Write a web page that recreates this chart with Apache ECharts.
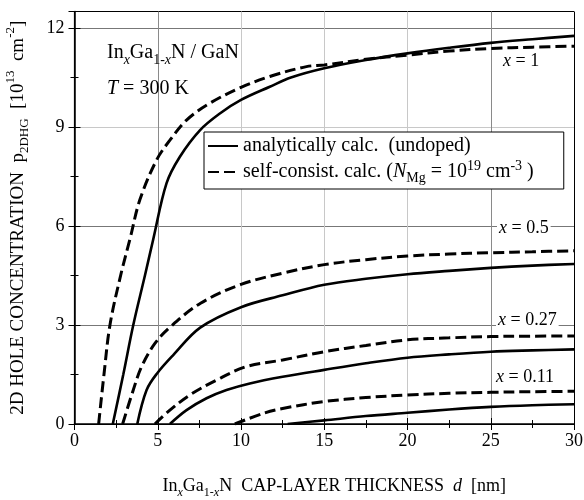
<!DOCTYPE html>
<html>
<head>
    <meta charset="utf-8">
    <title>Hole concentration vs cap-layer thickness</title>
    <script src="https://cdn.jsdelivr.net/npm/echarts@6/dist/echarts.min.js"></script>
    <style>
        body { margin: 0; background: #fff; }
    </style>
</head>
<body>
    <div id="main" style="width: 584px;height:500px;"></div>
    <script type="text/javascript">
        // [d (nm), p2DHG (1e13 cm^-2)]
        var solid100 = [[2.3,0],[2.93,1.5],[3.53,3],[4.23,4.5],[4.73,5.6],[5.53,7.3],[6.33,8.1],[7.53,8.9],[8.73,9.41],[10,9.82],[11.73,10.22],[13,10.5],[15,10.78],[17.5,11.03],[20,11.23],[22.5,11.4],[25,11.55],[27.5,11.66],[30,11.76]];
        var dash100 = [[1.45,0],[1.77,1.5],[2.13,3],[2.77,4.5],[3.33,5.6],[3.93,6.8],[4.93,8.0],[5.73,8.6],[6.73,9.21],[8.13,9.72],[10,10.2],[11.73,10.53],[13.93,10.83],[15,10.88],[17.5,11.05],[20,11.18],[22.5,11.3],[25,11.38],[27.5,11.42],[30,11.45]];
        var solid050 = [[3.77,0],[4.33,1.03],[4.97,1.54],[5.93,2.09],[7.55,2.92],[10,3.54],[12.5,3.9],[15,4.22],[17.5,4.4],[20,4.54],[22.5,4.64],[25,4.73],[27.5,4.8],[30,4.85]];
        var dash050 = [[2.89,0],[3.53,1.03],[4.03,1.74],[4.83,2.44],[5.77,2.95],[7.57,3.66],[10,4.23],[12.5,4.57],[15,4.83],[17.5,4.98],[20,5.09],[22.5,5.15],[25,5.19],[27.5,5.22],[30,5.25]];
        var solid027 = [[5.73,0],[6.73,0.42],[7.93,0.78],[9.13,1.03],[10.53,1.23],[12.5,1.43],[15,1.64],[17.5,1.84],[20,2.01],[22.5,2.11],[25,2.19],[27.5,2.23],[30,2.26]];
        var dash027 = [[4.83,0],[5.73,0.42],[6.93,0.88],[8.53,1.33],[10.33,1.74],[12.5,1.94],[15,2.19],[17.5,2.38],[20,2.55],[22.5,2.61],[25,2.65],[27.5,2.66],[30,2.67]];
        var solid011 = [[12.8,0],[15,0.11],[17.5,0.24],[20,0.34],[22.5,0.44],[25,0.52],[27.5,0.57],[30,0.6]];
        var dash011 = [[9.63,0],[11.33,0.32],[12.5,0.47],[15,0.68],[17.5,0.8],[20,0.88],[22.5,0.93],[25,0.96],[27.5,0.98],[30,0.99]];

        var xTicks = [0, 5, 10, 15, 20, 25, 30];
        var yTicks = [0, 3, 6, 9, 12];

        var serif = 'Liberation Serif';
        var nameSolid = 'analytically calc.';
        var nameDash = 'self-consist. calc.';

        // rich styles for sub/superscripts
        function richSet(size, lh) {
            var small = Math.round(size * 0.68);
            lh = lh || size + 8;
            return {
                n: { fontFamily: serif, fontSize: size, color: '#000', lineHeight: lh, verticalAlign: 'middle' },
                i: { fontFamily: serif, fontSize: size, fontStyle: 'italic', color: '#000', lineHeight: lh, verticalAlign: 'middle' },
                sub: { fontFamily: serif, fontSize: small, color: '#000', lineHeight: small, verticalAlign: 'bottom' },
                subi: { fontFamily: serif, fontSize: small, fontStyle: 'italic', color: '#000', lineHeight: small, verticalAlign: 'bottom' },
                sup: { fontFamily: serif, fontSize: small, color: '#000', lineHeight: small, verticalAlign: 'top' }
            };
        }

        var myChart = echarts.init(document.getElementById('main'));

        var series = [];
        var curves = [
            [nameSolid, solid100, 'solid'], [nameDash, dash100, 'dashed'],
            [nameSolid, solid050, 'solid'], [nameDash, dash050, 'dashed'],
            [nameSolid, solid027, 'solid'], [nameDash, dash027, 'dashed'],
            [nameSolid, solid011, 'solid'], [nameDash, dash011, 'dashed']
        ];
        for (var i = 0; i < curves.length; i++) {
            var isDash = curves[i][2] == 'dashed';
            series.push({
                name: curves[i][0],
                type: 'line',
                data: curves[i][1],
                smooth: 0.35,
                showSymbol: false,
                symbol: 'none',
                silent: true,
                itemStyle: { color: '#000' },
                lineStyle: {
                    color: '#000',
                    width: isDash ? 3 : 2.6,
                    type: isDash ? [11, 5] : 'solid',
                    cap: 'butt'
                },
                z: 3
            });
        }

        var xGridColors = ['#000', '#8a8a8a', '#c8c8c8', '#c8c8c8', '#c8c8c8', '#8a8a8a', '#000'];
        var yGridColors = ['#000', '#777', '#777', '#c8c8c8', '#777', '#000'];

        var option = {
            animation: false,
            backgroundColor: '#fff',
            grid: { left: 74.5, right: 10, top: 11.5, bottom: 76, outerBoundsMode: 'none', containLabel: false },
            legend: {
                data: [nameSolid, nameDash],
                orient: 'vertical',
                left: 204,
                top: 132,
                padding: [4, 30, 4, 3],
                itemGap: 3,
                itemWidth: 30,
                itemHeight: 14,
                backgroundColor: '#fff',
                borderColor: '#000',
                borderWidth: 1,
                borderRadius: 0,
                selectedMode: false,
                itemStyle: { opacity: 0, color: 'transparent', borderWidth: 0 },
                lineStyle: { color: '#000' },
                formatter: function (name) {
                    if (name == nameSolid) return '{n|analytically calc.  (undoped)}';
                    return '{n|self-consist. calc. (}{i|N}{sub|Mg}{n| = 10}{sup|19}{n| cm}{sup|-3}{n| )}';
                },
                textStyle: { fontFamily: serif, fontSize: 20, color: '#000', rich: richSet(20, 26) }
            },
            xAxis: [{
                type: 'value', min: 0, max: 30, interval: 5,
                name: '{n|In}{subi|x}{n|Ga}{sub|1-}{subi|x}{n|N  CAP-LAYER THICKNESS  }{i|d}{n|  [nm]}',
                nameLocation: 'middle', nameGap: 49,
                nameTextStyle: { fontFamily: serif, fontSize: 18, rich: richSet(18), padding: [0, 0, 0, 20] },
                axisLine: { lineStyle: { color: '#000', width: 1.5 } },
                axisTick: { inside: true, length: 6, lineStyle: { color: '#000' } },
                minorTick: { show: true, splitNumber: 2, length: 4, lineStyle: { color: '#000' } },
                axisLabel: { fontFamily: serif, fontSize: 18, color: '#000', margin: 8,
                    formatter: function (v) { return xTicks.indexOf(v) >= 0 ? String(v) : ''; } },
                splitLine: { show: true, lineStyle: { color: xGridColors, width: 1 } }
            }, {
                type: 'value', min: 0, max: 30, interval: 5, position: 'top',
                axisLine: { lineStyle: { color: '#000', width: 1.2 } },
                axisTick: { inside: true, length: 6, lineStyle: { color: '#000' } },
                minorTick: { show: true, splitNumber: 2, length: 4, lineStyle: { color: '#000' } },
                axisLabel: { show: false },
                splitLine: { show: false }
            }],
            yAxis: [{
                type: 'value', min: 0, max: 12.5, interval: 3,
                name: '{n|2D HOLE CONCENTRATION  p}{sub|2DHG}{n|  [10}{sup|13}{n|  cm}{sup|-2}{n|]}',
                nameLocation: 'middle', nameGap: 43, nameRotate: 90,
                nameTextStyle: { fontFamily: serif, fontSize: 19, rich: richSet(19) },
                axisLine: { lineStyle: { color: '#000', width: 1.5 } },
                axisTick: { inside: true, length: 6, lineStyle: { color: '#000' } },
                minorTick: { show: true, splitNumber: 2, length: 4, lineStyle: { color: '#000' } },
                axisLabel: { fontFamily: serif, fontSize: 18, color: '#000', margin: 10,
                    formatter: function (v) { return yTicks.indexOf(v) >= 0 ? String(v) : ''; } },
                splitLine: { show: true, lineStyle: { color: yGridColors, width: 1 } }
            }, {
                type: 'value', min: 0, max: 12.5, interval: 3, position: 'right',
                axisLine: { show: true, lineStyle: { color: '#000', width: 1.2 } },
                axisTick: { show: true, inside: true, length: 6, lineStyle: { color: '#000' } },
                minorTick: { show: true, splitNumber: 2, length: 4, lineStyle: { color: '#000' } },
                axisLabel: { show: false },
                splitLine: { show: false }
            }],
            graphic: [
                { type: 'text', left: 107, top: 43, z: 10,
                  style: { text: '{n|In}{subi|x}{n|Ga}{sub|1-}{subi|x}{n|N / GaN}', rich: richSet(20) } },
                { type: 'text', left: 107, top: 79, z: 10,
                  style: { text: '{i|T}{n| = 300 K}', rich: richSet(20) } },
                { type: 'text', left: 503, top: 52, z: 10,
                  style: { text: '{i|x}{n| = 1}', rich: richSet(18) } },
                { type: 'text', left: 497, top: 215, z: 10,
                  style: { text: '{i|x}{n| = 0.5}', rich: richSet(18), backgroundColor: '#fff', padding: [0, 2] } },
                { type: 'text', left: 496, top: 307, z: 10,
                  style: { text: '{i|x}{n| = 0.27}', rich: richSet(18), backgroundColor: '#fff', padding: [0, 2] } },
                { type: 'text', left: 494, top: 364, z: 10,
                  style: { text: '{i|x}{n| = 0.11}', rich: richSet(18), backgroundColor: '#fff', padding: [0, 2] } }
            ],
            series: series
        };
        myChart.setOption(option);
    </script>
</body>
</html>
